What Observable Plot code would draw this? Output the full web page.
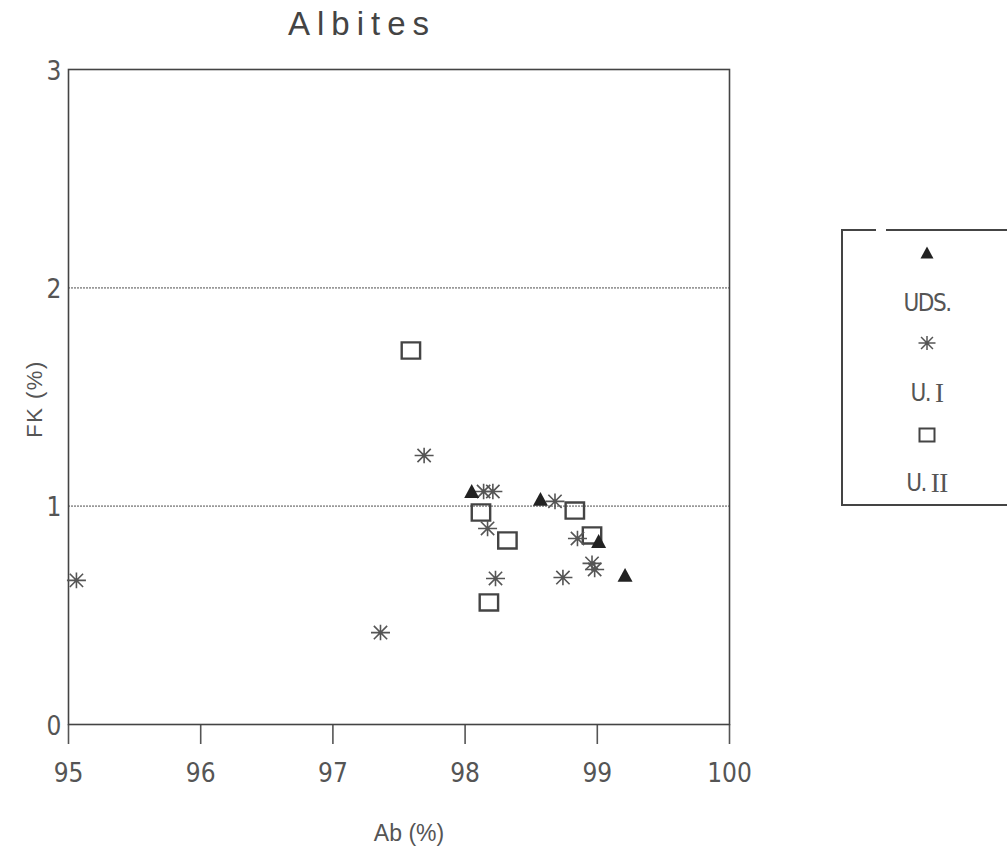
<!DOCTYPE html>
<html>
<head>
<meta charset="utf-8">
<script src="https://cdn.jsdelivr.net/npm/d3@7"></script>
<script src="https://cdn.jsdelivr.net/npm/@observablehq/plot@0.6"></script>
<style>
  html, body { margin: 0; padding: 0; background: #fff; }
  #wrap { position: relative; width: 1007px; height: 858px; overflow: hidden; background: #fff; }
  #wrap svg { position: absolute; left: 0; top: 0; }
</style>
</head>
<body>
<div id="wrap"></div>
<script>
// ---- data ----
const title = "Albites";
const xLabel = "Ab (%)";
const yLabel = "FK (%)";
const xTicks = [95, 96, 97, 98, 99, 100];
const yTicks = [0, 1, 2, 3];
const gridValues = [1, 2];

// U.D.S. (filled triangles)
const udsAb = [98.05, 98.57, 99.01, 99.21];
const udsFK = [1.067, 1.031, 0.838, 0.683];

// U. I (asterisks)
const u1Ab = [95.06, 97.36, 97.69, 98.14, 98.21, 98.17, 98.23, 98.68, 98.85, 98.74, 98.96, 98.98];
const u1FK = [0.66, 0.421, 1.232, 1.067, 1.067, 0.898, 0.669, 1.022, 0.852, 0.673, 0.738, 0.71];

// U. II (open squares)
const u2Ab = [97.59, 98.12, 98.32, 98.83, 98.96, 98.18];
const u2FK = [1.713, 0.971, 0.843, 0.98, 0.866, 0.559];

const legendItems = ["UDS.", "U.", "U."];
const legendNumerals = ["", "I", "II"];

// ---- symbols ----
const triangleSym = {draw(ctx, size) {
  const r = Math.sqrt(size / Math.PI);
  ctx.moveTo(0, -r); ctx.lineTo(r, 0.85 * r); ctx.lineTo(-r, 0.85 * r); ctx.closePath();
}};
const asteriskSym = {draw(ctx, size) {
  const r = Math.sqrt(size / Math.PI);
  const v = r * 0.82, d = r * 0.7;
  ctx.moveTo(-r, 0); ctx.lineTo(r, 0);
  ctx.moveTo(0, -v); ctx.lineTo(0, v);
  ctx.moveTo(-d, -d); ctx.lineTo(d, d);
  ctx.moveTo(-d, d); ctx.lineTo(d, -d);
}};
const squareSym = {draw(ctx, size) {
  const r = Math.sqrt(size / Math.PI);
  const h = r * 0.88;
  ctx.moveTo(-r, -h); ctx.lineTo(r, -h); ctx.lineTo(r, h); ctx.lineTo(-r, h); ctx.closePath();
}};

const uds = udsAb.map((x, i) => ({x, y: udsFK[i]}));
const u1 = u1Ab.map((x, i) => ({x, y: u1FK[i]}));
const u2 = u2Ab.map((x, i) => ({x, y: u2FK[i]}));

const narrow = "'Liberation Sans Narrow', 'DejaVu Sans Condensed', 'Liberation Sans', sans-serif";
const sans = "'Liberation Sans', Arial, sans-serif";

const chart = Plot.plot({
  width: 800,
  height: 858,
  marginLeft: 68,
  marginRight: 71,
  marginTop: 69,
  marginBottom: 134,
  x: {domain: [95, 100]},
  y: {domain: [0, 3]},
  style: {fontFamily: narrow, fontSize: "26px", color: "#555", background: "transparent"},
  marks: [
    Plot.ruleY(gridValues, {stroke: "#999", strokeWidth: 1.6, strokeDasharray: "2,1"}),
    Plot.axisX({ticks: xTicks, tickFormat: d3.format("d"), tickSize: 20, tickPadding: 19, label: null, stroke: "#555", strokeWidth: 1.6, fill: "#555", fontSize: 26}),
    Plot.axisY({ticks: yTicks, tickFormat: d3.format("d"), tickSize: 0, tickPadding: 7, label: null, fill: "#555", fontSize: 26, dy: 2}),
    Plot.frame({stroke: "#444", strokeWidth: 1.6}),
    Plot.text([title], {frameAnchor: "top", dx: -37, dy: -45, fontFamily: sans, fontSize: 33, fill: "#444", lineAnchor: "middle"}),
    Plot.text([xLabel], {frameAnchor: "bottom", dx: 10, dy: 116, fontFamily: sans, fontSize: 23, fill: "#555"}),
    Plot.text([yLabel], {frameAnchor: "left", textAnchor: "middle", dx: -34, dy: 2, rotate: -90, fontFamily: sans, fontSize: 22, fill: "#555"}),
    Plot.dot(u2, {x: "x", y: "y", symbol: squareSym, r: 9.2, fill: "none", stroke: "#444", strokeWidth: 2.4}),
    Plot.dot(u1, {x: "x", y: "y", symbol: asteriskSym, r: 9.5, fill: "none", stroke: "#555", strokeWidth: 1.6}),
    Plot.dot(uds, {x: "x", y: "y", symbol: triangleSym, r: 7.5, fill: "#222", stroke: "none"})
  ]
});
document.getElementById("wrap").appendChild(chart);

// letter spacing for title and axis label (as in the reference)
d3.select(chart).selectAll("text").each(function() {
  if (this.textContent === title) d3.select(this).attr("letter-spacing", 7);
  if (this.textContent === yLabel) d3.select(this).attr("letter-spacing", 1.5);
});

// ---- legend (drawn with d3) ----
const lg = d3.select("#wrap").append("svg")
  .attr("width", 1007).attr("height", 858)
  .style("pointer-events", "none");
const boxL = 842, boxT = 230, boxB = 505, boxR = 1012, gapA = 876, gapB = 886;
const ls = lg.append("g").attr("fill", "none").attr("stroke", "#444").attr("stroke-width", 2);
ls.append("path").attr("d", `M${gapA},${boxT} H${boxL} V${boxB} H${boxR}`);
ls.append("path").attr("d", `M${gapB},${boxT} H${boxR}`);

const cx = 927;
const legendSyms = [
  {sym: triangleSym, r: 6.5, y: 253, fill: "#222", stroke: "none", sw: 0},
  {sym: asteriskSym, r: 8.5, y: 343, fill: "none", stroke: "#555", sw: 1.5},
  {sym: squareSym, r: 7.5, y: 435, fill: "none", stroke: "#444", sw: 2}
];
const labelY = [303, 393, 483];
legendSyms.forEach((s, i) => {
  lg.append("path")
    .attr("transform", `translate(${cx},${s.y})`)
    .attr("d", d3.symbol().type(s.sym).size(Math.PI * s.r * s.r)())
    .attr("fill", s.fill).attr("stroke", s.stroke).attr("stroke-width", s.sw);
  const t = lg.append("text")
    .attr("x", cx).attr("y", labelY[i])
    .attr("text-anchor", "middle").attr("dominant-baseline", "central")
    .attr("fill", "#555").attr("font-family", narrow).attr("font-size", 24)
    .attr("letter-spacing", -1.5);
  t.append("tspan").text(legendItems[i]);
  if (legendNumerals[i]) {
    t.append("tspan").attr("dx", 5).attr("font-family", "'Liberation Serif', 'DejaVu Serif', serif")
      .attr("font-size", 27).attr("letter-spacing", -0.5).text(legendNumerals[i]);
  }
});
</script>
</body>
</html>
